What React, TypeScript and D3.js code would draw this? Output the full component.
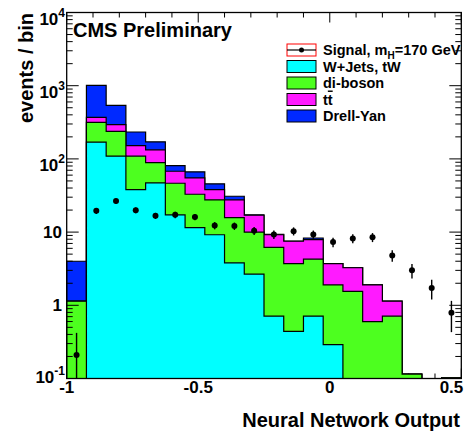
import React from 'react';
import * as d3 from 'd3';

// Bin lower edges (Neural Network Output), bin width 0.075
const binLow = [-1, -0.925, -0.85, -0.775, -0.7, -0.625, -0.55, -0.475, -0.4, -0.325,
  -0.25, -0.175, -0.1, -0.025, 0.05, 0.125, 0.2, 0.275, 0.35, 0.425];
const binWidth = 0.075;

// Stacked background components (events / bin)
const wjets = [0, 169, 109, 38, 47, 17.2, 11.5, 9.2, 3.8, 2.67, 0.71, 0.44, 0.71, 0.29, 0, 0, 0, 0, 0, 0];
const diboson = [1.14, 147, 129, 71, 42, 29.3, 21.4, 18.4, 12, 7.33, 5.49, 3.26, 3.56, 1.61, 1.55, 0.6, 0.71, 0.115, 0, 0.102];
const ttbar = [0, 54, 56, 43, 44, 21.3, 22.1, 10.4, 11.8, 7, 3.0, 3.8, 3.63, 1.8, 1.71, 1.3, 0.43, 0, 0, 0];
const drellYan = [2.86, 640, 245, 81, 38, 13.2, 11.5, 7.6, 3.3, 0.2, 0.1, 0.05, 0.4, 0.02, 0.01, 0, 0, 0, 0, 0];

// Signal (m_H = 170 GeV) points and errors
const signal = [0.21, 19.5, 26.5, 19.9, 16.7, 17.2, 16.1, 12.3, 12.1, 10.4, 9.3, 10.3, 9.3, 7.3, 8.2, 8.5, 4.8, 3.0, 1.72, 0.79];
const signalErr = [0.21, 1.8, 2.1, 1.8, 1.6, 1.7, 1.6, 1.4, 1.4, 1.3, 1.25, 1.3, 1.2, 1.1, 1.15, 1.2, 0.85, 0.68, 0.52, 0.36];

const yDecades = [0.1, 1, 10, 100, 1000, 10000];
const yDecadeLabels = [['10', '-1'], ['1', ''], ['10', ''], ['10', '2'], ['10', '3'], ['10', '4']];
const xLabelVals = [-1, -0.5, 0, 0.5];
const xLabelText = ['-1', '-0.5', '0', '0.5'];

const legendNames = ['Signal, m', 'W+Jets, tW', 'di-boson', 'tt', 'Drell-Yan'];
const layerKeys = ['wjets', 'diboson', 'ttbar', 'dy'];
const layerColors = ['#00ffff', '#4dff1f', '#ff1aff', '#0029ff'];

const W = 476, H = 434;
const X0 = 66.7, X1 = 461.3, Y0 = 378.5, Y1 = 12.5;
const FONT = '"Liberation Sans", Arial, Helvetica, sans-serif';

export default function App() {
  const x = d3.scaleLinear().domain([-1, 0.5]).range([X0, X1]);
  const y = d3.scaleLog().domain([0.1, 10000]).range([Y0, Y1]).clamp(true);
  const yv = (v: number) => y(Math.max(v, 0.01));

  const rows = binLow.map((b, i) => ({
    b, wjets: wjets[i], diboson: diboson[i], ttbar: ttbar[i], dy: drellYan[i],
  }));
  const stacked = d3.stack<any>().keys(layerKeys)(rows);

  const area = d3.area<[number, number]>()
    .x(d => x(d[0]))
    .y0(Y0)
    .y1(d => yv(d[1]))
    .curve(d3.curveStepAfter);

  const layerPaths = stacked.map(layer => {
    const pts: [number, number][] = layer.map((s, i) => [binLow[i], s[1]]);
    pts.push([binLow[binLow.length - 1] + binWidth, layer[layer.length - 1][1]]);
    return area(pts) as string;
  });

  // ticks
  const minorY: number[] = [];
  for (let d = -1; d < 4; d++) for (let k = 2; k <= 9; k++) minorY.push(k * Math.pow(10, d));
  const xTicks = d3.range(-10, 6).map(v => v / 10);

  const tickColor = '#000';
  const bottomTicks = xTicks.map((t, i) => {
    const major = Math.abs(t * 2 - Math.round(t * 2)) < 1e-6;
    return <line key={'bt' + i} x1={x(t)} x2={x(t)} y1={Y0} y2={Y0 - (major ? 10 : 5)} stroke={tickColor} strokeWidth={1} />;
  });
  const topTicks = xTicks.map((t, i) => {
    const major = Math.abs(t * 2 - Math.round(t * 2)) < 1e-6;
    return <line key={'tt' + i} x1={x(t)} x2={x(t)} y1={Y1} y2={Y1 + (major ? 10 : 5)} stroke={tickColor} strokeWidth={1} />;
  });
  const sideTicks: JSX.Element[] = [];
  yDecades.forEach((v, i) => {
    sideTicks.push(<line key={'ly' + i} x1={X0} x2={X0 + 12} y1={y(v)} y2={y(v)} stroke={tickColor} strokeWidth={1} />);
    sideTicks.push(<line key={'ry' + i} x1={X1} x2={X1 - 12} y1={y(v)} y2={y(v)} stroke={tickColor} strokeWidth={1} />);
  });
  minorY.forEach((v, i) => {
    sideTicks.push(<line key={'lm' + i} x1={X0} x2={X0 + 6} y1={y(v)} y2={y(v)} stroke={tickColor} strokeWidth={1} />);
    sideTicks.push(<line key={'rm' + i} x1={X1} x2={X1 - 6} y1={y(v)} y2={y(v)} stroke={tickColor} strokeWidth={1} />);
  });

  const legendY = [50, 66.5, 83, 99.5, 116];
  const lbx = 287, lbw = 29, lbh = 12;

  return (
    <svg width={W} height={H} style={{ position: 'absolute', left: 0, top: 0, background: '#fff' }}
      fontFamily={FONT} fontWeight="bold">
      <rect x={0} y={0} width={W} height={H} fill="#fff" />
      {bottomTicks}
      {layerPaths.slice().reverse().map((p, ri) => {
        const i = layerPaths.length - 1 - ri;
        return <path key={'l' + i} d={p} fill={layerColors[i]} stroke="#000" strokeWidth={1.2} strokeLinejoin="miter" />;
      })}
      {/* signal points */}
      {signal.map((v, i) => {
        const cx = x(binLow[i] + binWidth / 2);
        return (
          <g key={'s' + i}>
            <line x1={cx} x2={cx} y1={yv(v + signalErr[i])} y2={yv(v - signalErr[i])} stroke="#000" strokeWidth={1.4} />
            <circle cx={cx} cy={yv(v)} r={3} fill="#000" />
          </g>
        );
      })}
      {topTicks}
      {sideTicks}
      <rect x={X0} y={Y1} width={X1 - X0} height={Y0 - Y1} fill="none" stroke="#000" strokeWidth={1.3} />

      {/* y tick labels */}
      {yDecades.map((v, i) => {
        const [base, sup] = yDecadeLabels[i];
        if (sup) {
          return (
            <text key={'yl' + i} x={65} y={y(v) + (i === 0 ? 4 : 12)} textAnchor="end" fontSize={17} fill="#000">
              {base}<tspan fontSize={12} dy={-8}>{sup}</tspan>
            </text>
          );
        }
        return <text key={'yl' + i} x={62} y={y(v) + 6} textAnchor="end" fontSize={17} fill="#000">{base}</text>;
      })}
      {/* x tick labels */}
      {xLabelVals.map((v, i) => (
        <text key={'xl' + i} x={i === xLabelVals.length - 1 ? x(v) + 2 : x(v)} y={393}
          textAnchor={i === xLabelVals.length - 1 ? 'end' : 'middle'} fontSize={17} fill="#000">{xLabelText[i]}</text>
      ))}
      {/* axis titles */}
      <text x={460} y={427} textAnchor="end" fontSize={20} fill="#000">Neural Network Output</text>
      <text transform="translate(33.3,13) rotate(-90)" textAnchor="end" fontSize={20} fill="#000">events / bin</text>
      <text x={73} y={37} fontSize={20} fill="#000">CMS Preliminary</text>

      {/* legend */}
      <g>
        <rect x={lbx} y={legendY[0] - lbh / 2} width={lbw} height={lbh} fill="#fff" stroke="#ff0000" strokeWidth={1} />
        <line x1={lbx} x2={lbx + lbw} y1={legendY[0]} y2={legendY[0]} stroke="#000" strokeWidth={1.2} />
        <circle cx={lbx + lbw / 2} cy={legendY[0]} r={2.5} fill="#000" />
        <text x={323} y={legendY[0] + 5} fontSize={14.5} fill="#000">
          {legendNames[0]}<tspan fontSize={10} dy={4}>H</tspan><tspan dy={-4}>=170 GeV</tspan>
        </text>
        {[0, 1, 2, 3].map(i => (
          <g key={'lg' + i}>
            <rect x={lbx} y={legendY[i + 1] - lbh / 2} width={lbw} height={lbh} fill={layerColors[i]} stroke="#000" strokeWidth={1} />
            <text x={323} y={legendY[i + 1] + 5} fontSize={14.5} fill="#000">
              {i === 2 ? (<>{'t'}<tspan style={{ textDecoration: 'overline' }}>t</tspan></>) : legendNames[i + 1]}
            </text>
          </g>
        ))}
      </g>
    </svg>
  );
}
